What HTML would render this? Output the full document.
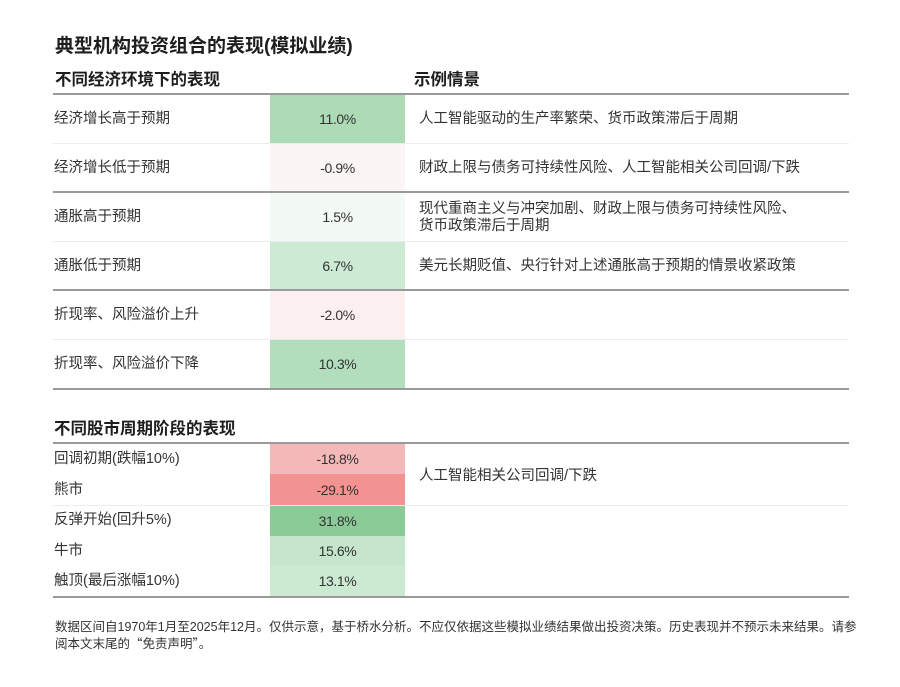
<!DOCTYPE html>
<html><head><meta charset="utf-8">
<style>
html,body{margin:0;padding:0;background:#fff;}
body{width:900px;height:687px;position:relative;overflow:hidden;font-family:"Liberation Sans","Noto Sans CJK SC",sans-serif;color:#333;}
.a{position:absolute;white-space:nowrap;}
.t{font-size:19px;font-weight:700;color:#1e1e1e;}
.h{font-size:16.5px;font-weight:600;color:#1e1e1e;}
.l{font-size:14.5px;color:#333;line-height:18px;}
.v{position:absolute;left:270px;width:135px;text-align:center;font-size:14px;letter-spacing:-0.4px;color:#333;display:flex;align-items:center;justify-content:center;}
.hr{position:absolute;left:53px;width:796px;height:2px;background:#9a9a9a;}
.lr{position:absolute;left:53px;width:796px;height:1px;background:#ececec;}
.f{font-size:12.5px;color:#333;line-height:16px;}
.cj{font-family:"Noto Sans CJK SC",sans-serif;}
</style></head><body>
<div class="a t" style="left:55px;top:31px;">典型机构投资组合的表现(模拟业绩)</div>
<div class="a h" style="left:55px;top:66px;">不同经济环境下的表现</div>
<div class="a h" style="left:414px;top:66px;">示例情景</div>

<div class="v" style="top:95px;height:48px;background:#acdbb6;">11.0%</div>
<div class="v" style="top:144px;height:47px;background:#fbf6f5;">-0.9%</div>
<div class="v" style="top:193px;height:48px;background:#f3f9f4;">1.5%</div>
<div class="v" style="top:242px;height:47px;background:#cdebd4;">6.7%</div>
<div class="v" style="top:291px;height:48px;background:#fcefef;">-2.0%</div>
<div class="v" style="top:340px;height:48px;background:#b3debd;">10.3%</div>

<div class="hr" style="top:93px;"></div>
<div class="lr" style="top:143px;"></div>
<div class="hr" style="top:191px;"></div>
<div class="lr" style="top:241px;"></div>
<div class="hr" style="top:289px;"></div>
<div class="lr" style="top:339px;"></div>
<div class="hr" style="top:388px;"></div>

<div class="a l" style="left:54px;top:110px;">经济增长高于预期</div>
<div class="a l" style="left:54px;top:159px;">经济增长低于预期</div>
<div class="a l" style="left:54px;top:208px;">通胀高于预期</div>
<div class="a l" style="left:54px;top:257px;">通胀低于预期</div>
<div class="a l" style="left:54px;top:306px;">折现率、风险溢价上升</div>
<div class="a l" style="left:54px;top:355px;">折现率、风险溢价下降</div>

<div class="a l" style="left:419px;top:110px;">人工智能驱动的生产率繁荣、货币政策滞后于周期</div>
<div class="a l" style="left:419px;top:159px;">财政上限与债务可持续性风险、人工智能相关公司回调/下跌</div>
<div class="a l" style="left:419px;top:201px;line-height:17px;">现代重商主义与冲突加剧、财政上限与债务可持续性风险、<br>货币政策滞后于周期</div>
<div class="a l" style="left:419px;top:257px;">美元长期贬值、央行针对上述通胀高于预期的情景收紧政策</div>

<div class="a h" style="left:54px;top:415px;">不同股市周期阶段的表现</div>
<div class="v" style="top:444px;height:30px;background:#f5b8b8;">-18.8%</div>
<div class="v" style="top:474px;height:31px;background:#f29392;">-29.1%</div>
<div class="v" style="top:505px;height:31px;background:#8bcb98;">31.8%</div>
<div class="v" style="top:536px;height:30px;background:#c5e6cc;">15.6%</div>
<div class="v" style="top:566px;height:30px;background:#cce9d2;">13.1%</div>
<div class="hr" style="top:442px;"></div>
<div class="lr" style="top:505px;"></div>
<div class="hr" style="top:596px;"></div>

<div class="a l" style="left:54px;top:450px;">回调初期(跌幅10%)</div>
<div class="a l" style="left:54px;top:481px;">熊市</div>
<div class="a l" style="left:54px;top:511px;">反弹开始(回升5%)</div>
<div class="a l" style="left:54px;top:542px;">牛市</div>
<div class="a l" style="left:54px;top:572px;">触顶(最后涨幅10%)</div>
<div class="a l" style="left:419px;top:467px;">人工智能相关公司回调/下跌</div>

<div class="a f" style="left:55px;top:619px;">数据区间自1970年1月至2025年12月。仅供示意，基于桥水分析。不应仅依据这些模拟业绩结果做出投资决策。历史表现并不预示未来结果。请参<br>阅本文末尾的<span class="cj">“免责声明”。</span></div>
</body></html>
